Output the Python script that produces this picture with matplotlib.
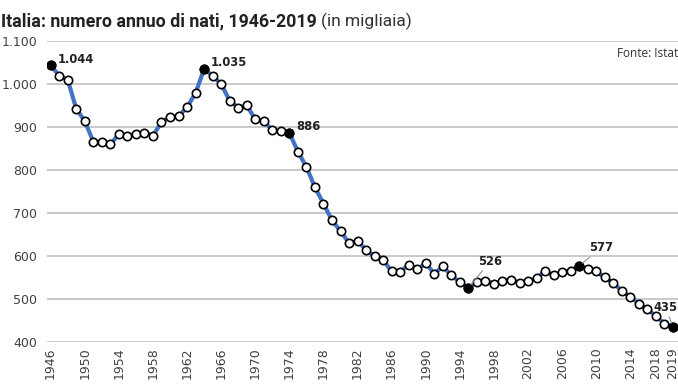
import matplotlib
matplotlib.use('Agg')
import matplotlib.pyplot as plt
import matplotlib.transforms as mtransforms

# Nati in Italia (migliaia)
years = list(range(1946, 2020))
births = [1044, 1019, 1010, 942, 914, 866, 864, 860, 883, 880,
          884, 887, 880, 911, 924, 925, 946, 979, 1035, 1019,
          1000, 961, 945, 950, 918, 913, 893, 890, 886, 843,
          807, 760, 722, 683, 658, 630, 635, 614, 599, 591,
          564, 563, 580, 569, 583, 559, 576, 555, 539, 526,
          539, 543, 535, 541, 545, 538, 542, 548, 565, 555,
          563, 566, 577, 570, 564, 550, 538, 518, 505, 489,
          477, 460, 443, 435]
highlight_years = [1946, 1964, 1974, 1995, 2008, 2019]
tick_years = list(range(1946, 2019, 4)) + [2019]
y_ticks = [400, 500, 600, 700, 800, 900, 1000, 1100]


def it_fmt(v):
    return f"{v:,}".replace(',', '.')


fig = plt.figure(figsize=(6.78, 3.85), dpi=100)
ax = fig.add_axes([47 / 678, 1 - 342 / 385, 631 / 678, 301 / 385])

ax.plot(years, births, color='#4472C4', lw=3, zorder=2)
ax.plot(years, births, ls='none', marker='o', ms=6, mfc='white',
        mec='black', mew=1.2, zorder=3)
hl_vals = [births[years.index(y)] for y in highlight_years]
ax.plot(highlight_years, hl_vals, ls='none', marker='o', ms=6,
        mfc='black', mec='black', mew=1.2, zorder=4)

# etichette dei valori evidenziati (offset in punti)
offsets = {1946: (5, 4, False), 1964: (5, 5, False), 1974: (5, 5, False),
           1995: (7, 19, True), 2008: (7, 13, True), 2019: (-14, 14, True)}
for y, v in zip(highlight_years, hl_vals):
    dx, dy, leader = offsets[y]
    ap = dict(arrowstyle='-', color='#909090', lw=0.8, shrinkA=0, shrinkB=3) if leader else None
    ax.annotate(it_fmt(v), xy=(y, v), xytext=(dx, dy), textcoords='offset points',
                ha='left', va='center', fontsize=8.3, fontweight='bold',
                color='#222222', arrowprops=ap, zorder=5)

ax.set_xlim(1945.57, 2019.59)
ax.set_ylim(400, 1100)
ax.set_yticks(y_ticks)
ax.set_yticklabels([it_fmt(v) for v in y_ticks])
ax.set_xticks(tick_years)
ax.set_xticklabels([str(t) for t in tick_years], rotation=90)
ax.tick_params(length=0, labelsize=9, labelcolor='#404040')
ax.tick_params(axis='y', pad=7)
ax.tick_params(axis='x', pad=4)
ax.grid(axis='y', color='#c0c0c0', lw=1.2)
ax.set_axisbelow(True)
for s in ax.spines.values():
    s.set_visible(False)

# sposta leggermente l'etichetta 2018 per non sovrapporla al 2019
for lab in ax.get_xticklabels():
    if lab.get_text() == '2018':
        lab.set_transform(lab.get_transform() + mtransforms.ScaledTranslation(-6 / 72, 0, fig.dpi_scale_trans))

ax.text(1.0, 0.96, 'Fonte: Istat', transform=ax.transAxes, ha='right', va='center',
        fontsize=8.5, color='#333333', family=['Open Sans', 'DejaVu Sans'])

t1 = fig.text(1 / 678, 1 - 26 / 385, 'Italia: numero annuo di nati, 1946-2019',
              fontsize=12.8, fontweight='bold', color='#222222',
              family=['Liberation Sans Narrow', 'Roboto'], va='baseline', ha='left')
fig.canvas.draw()
bb = t1.get_window_extent()
fig.text((bb.x1 + 4) / (678), 1 - 26 / 385, '(in migliaia)', fontsize=12.5,
         color='#333333', family=['Liberation Sans Narrow', 'Roboto'],
         va='baseline', ha='left')

fig.savefig('out.png', dpi=100, facecolor='white')
